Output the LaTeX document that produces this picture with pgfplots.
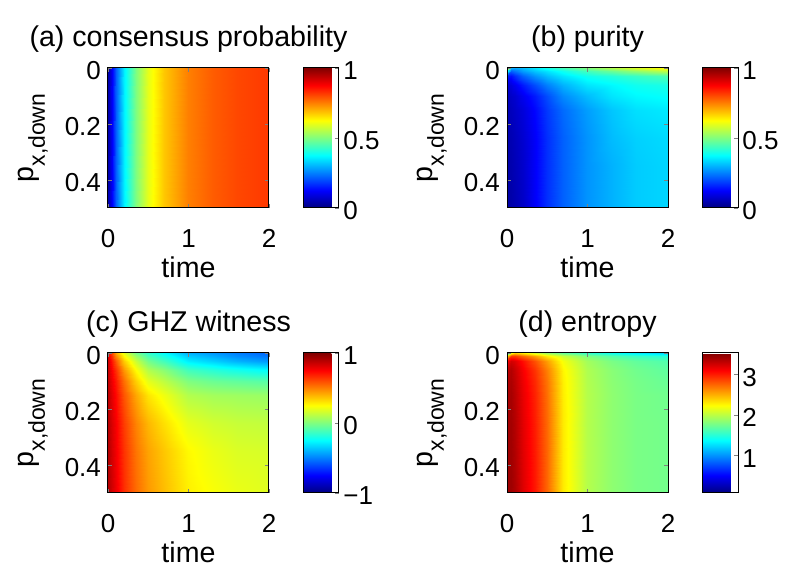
\documentclass[border=0pt]{standalone}
\usepackage{fontspec}
\setmainfont{Liberation Sans}
\usepackage{pgfplots}
\pgfplotsset{compat=1.18}

\pgfplotsset{
  panel/.style={
    scale only axis, width=80.5pt, height=70pt,
    anchor=south west,
    xmin=0, xmax=2, ymin=0, ymax=0.5, y dir=reverse,
    xtick={0,1,2}, ytick={0,0.2,0.4},
    tick align=inside, major tick length=2pt,
    axis line style={line width=0.5pt},
    axis on top,
    colormap/jet,
    /pgf/number format/assume math mode=true,
    tick label style={font=\fontsize{13}{15}\selectfont},
    xticklabel style={anchor=base, yshift=-20pt},
    yticklabel style={yshift=-1.5pt},
    label style={font=\fontsize{14.3}{16}\selectfont},
    title style={font=\fontsize{14.3}{16}\selectfont, at={(axis description cs:0.5,1.07)}, anchor=base},
    xlabel={time},
    xlabel style={at={(axis description cs:0.5,-0.5)}, anchor=base},
    ylabel={p\raisebox{-0.38em}{\fontsize{11.5}{12}\selectfont x,down}},
    ylabel style={at={(axis description cs:-0.46,0.5)}, anchor=base},
    colorbar,
    colorbar shift/.style={xshift=17pt},
    colorbar style={
      at={(parent axis.north east)}, anchor=north west,
      width=18pt,
      tick align=inside, major tick length=2pt,
      ytick pos=right,
      axis line style={line width=0.5pt},
      /pgf/number format/assume math mode=true,
      yticklabel style={font=\fontsize{13}{15}\selectfont, xshift=-1.3pt, yshift=-1.5pt},
    },
  },
}

\begin{document}
\begin{tikzpicture}
\path[use as bounding box] (0,0) rectangle (394pt,290.5pt);

% (a)
\begin{axis}[panel, at={(54pt,186.5pt)}, title={(a) consensus probability},
  point meta min=0, point meta max=1,
  colorbar style={ytick={0,0.5,1}}]
\addplot[surf, shader=interp, mesh/cols=11, point meta=explicit] table[meta=v] {
t p v
0 0 0.04
0.05 0 0.12
0.1 0 0.22
0.2 0 0.36
0.35 0 0.50
0.5 0 0.60
0.7 0 0.68
1.0 0 0.75
1.3 0 0.785
1.6 0 0.805
2.0 0 0.82
0 0.5 0.04
0.05 0.5 0.12
0.1 0.5 0.22
0.2 0.5 0.36
0.35 0.5 0.50
0.5 0.5 0.60
0.7 0.5 0.68
1.0 0.5 0.75
1.3 0.5 0.785
1.6 0.5 0.805
2.0 0.5 0.82
};
\end{axis}

% (b)
\begin{axis}[panel, at={(253.5pt,186.5pt)}, title={(b) purity},
  point meta min=0, point meta max=1,
  colorbar style={ytick={0,0.5,1}}]
\addplot[surf, shader=interp, mesh/cols=11, point meta=explicit] table[meta=v] {
t p v
0 0 0.70
0.05 0 0.30
0.1 0 0.29
0.2 0 0.31
0.35 0 0.35
0.5 0 0.39
0.7 0 0.44
1.0 0 0.50
1.3 0 0.55
1.6 0 0.59
2.0 0 0.63
0 0.01 0.40
0.05 0.01 0.22
0.1 0.01 0.24
0.2 0.01 0.28
0.35 0.01 0.32
0.5 0.01 0.35
0.7 0.01 0.39
1.0 0.01 0.44
1.3 0.01 0.48
1.6 0.01 0.52
2.0 0.01 0.56
0 0.03 0.15
0.05 0.03 0.14
0.1 0.03 0.17
0.2 0.03 0.22
0.35 0.03 0.27
0.5 0.03 0.31
0.7 0.03 0.35
1.0 0.03 0.39
1.3 0.03 0.41
1.6 0.03 0.43
2.0 0.03 0.45
0 0.06 0.08
0.05 0.06 0.09
0.1 0.06 0.11
0.2 0.06 0.15
0.35 0.06 0.20
0.5 0.06 0.25
0.7 0.06 0.30
1.0 0.06 0.35
1.3 0.06 0.37
1.6 0.06 0.39
2.0 0.06 0.40
0 0.1 0.06
0.05 0.1 0.07
0.1 0.1 0.08
0.2 0.1 0.11
0.35 0.1 0.15
0.5 0.1 0.20
0.7 0.1 0.26
1.0 0.1 0.31
1.3 0.1 0.35
1.6 0.1 0.37
2.0 0.1 0.38
0 0.15 0.05
0.05 0.15 0.06
0.1 0.15 0.07
0.2 0.15 0.09
0.35 0.15 0.13
0.5 0.15 0.18
0.7 0.15 0.23
1.0 0.15 0.28
1.3 0.15 0.32
1.6 0.15 0.345
2.0 0.15 0.355
0 0.25 0.045
0.05 0.25 0.05
0.1 0.25 0.06
0.2 0.25 0.08
0.35 0.25 0.12
0.5 0.25 0.17
0.7 0.25 0.22
1.0 0.25 0.27
1.3 0.25 0.31
1.6 0.25 0.33
2.0 0.25 0.34
0 0.35 0.04
0.05 0.35 0.045
0.1 0.35 0.055
0.2 0.35 0.075
0.35 0.35 0.12
0.5 0.35 0.17
0.7 0.35 0.22
1.0 0.35 0.27
1.3 0.35 0.30
1.6 0.35 0.325
2.0 0.35 0.335
0 0.5 0.035
0.05 0.5 0.04
0.1 0.5 0.05
0.2 0.5 0.07
0.35 0.5 0.12
0.5 0.5 0.17
0.7 0.5 0.22
1.0 0.5 0.27
1.3 0.5 0.30
1.6 0.5 0.325
2.0 0.5 0.335
};
\end{axis}

% (c)
\begin{axis}[panel, at={(54pt,44pt)}, title={(c) GHZ witness},
  point meta min=-1, point meta max=1,
  colorbar style={ytick={-1,0,1}, yticklabels={−1,0,1}}]
\addplot[surf, shader=interp, mesh/cols=11, point meta=explicit] table[meta=v] {
t p v
0 0 0.75
0.05 0 0.60
0.1 0 0.42
0.2 0 0.20
0.35 0 -0.02
0.5 0 -0.15
0.7 0 -0.25
1.0 0 -0.40
1.3 0 -0.45
1.6 0 -0.50
2.0 0 -0.55
0 0.01 0.80
0.05 0.01 0.65
0.1 0.01 0.48
0.2 0.01 0.26
0.35 0.01 0.05
0.5 0.01 -0.10
0.7 0.01 -0.20
1.0 0.01 -0.35
1.3 0.01 -0.41
1.6 0.01 -0.47
2.0 0.01 -0.52
0 0.03 0.84
0.05 0.03 0.70
0.1 0.03 0.57
0.2 0.03 0.35
0.35 0.03 0.14
0.5 0.03 -0.02
0.7 0.03 -0.12
1.0 0.03 -0.28
1.3 0.03 -0.34
1.6 0.03 -0.40
2.0 0.03 -0.45
0 0.06 0.86
0.05 0.06 0.75
0.1 0.06 0.65
0.2 0.06 0.45
0.35 0.06 0.25
0.5 0.06 0.10
0.7 0.06 0.02
1.0 0.06 -0.12
1.3 0.06 -0.17
1.6 0.06 -0.21
2.0 0.06 -0.25
0 0.1 0.87
0.05 0.1 0.78
0.1 0.1 0.70
0.2 0.1 0.53
0.35 0.1 0.34
0.5 0.1 0.20
0.7 0.1 0.12
1.0 0.1 0.00
1.3 0.1 -0.04
1.6 0.1 -0.06
2.0 0.1 -0.08
0 0.15 0.88
0.05 0.15 0.80
0.1 0.15 0.73
0.2 0.15 0.58
0.35 0.15 0.42
0.5 0.15 0.30
0.7 0.15 0.22
1.0 0.15 0.10
1.3 0.15 0.07
1.6 0.15 0.06
2.0 0.15 0.05
0 0.25 0.89
0.05 0.25 0.82
0.1 0.25 0.76
0.2 0.25 0.63
0.35 0.25 0.49
0.5 0.25 0.39
0.7 0.25 0.31
1.0 0.25 0.20
1.3 0.25 0.16
1.6 0.25 0.14
2.0 0.25 0.13
0 0.35 0.90
0.05 0.35 0.83
0.1 0.35 0.77
0.2 0.35 0.65
0.35 0.35 0.52
0.5 0.35 0.43
0.7 0.35 0.36
1.0 0.35 0.26
1.3 0.35 0.21
1.6 0.35 0.18
2.0 0.35 0.17
0 0.5 0.90
0.05 0.5 0.84
0.1 0.5 0.78
0.2 0.5 0.66
0.35 0.5 0.54
0.5 0.5 0.45
0.7 0.5 0.38
1.0 0.5 0.28
1.3 0.5 0.24
1.6 0.5 0.21
2.0 0.5 0.19
};
\end{axis}

% (d)
\begin{axis}[panel, at={(253.5pt,44pt)}, title={(d) entropy},
  point meta min=0.07, point meta max=3.53,
  colorbar style={ytick={1,2,3}}]
\addplot[surf, shader=interp, mesh/cols=11, point meta=explicit] table[meta=v] {
t p v
0 0 1.0
0.05 0 2.2
0.1 0 2.4
0.2 0 2.3
0.35 0 2.1
0.5 0 1.9
0.7 0 1.72
1.0 0 1.55
1.3 0 1.42
1.6 0 1.32
2.0 0 1.22
0 0.01 2.4
0.05 0.01 2.9
0.1 0.01 2.9
0.2 0.01 2.75
0.35 0.01 2.55
0.5 0.01 2.3
0.7 0.01 2.05
1.0 0.01 1.80
1.3 0.01 1.66
1.6 0.01 1.57
2.0 0.01 1.50
0 0.03 3.1
0.05 0.03 3.25
0.1 0.03 3.2
0.2 0.03 3.05
0.35 0.03 2.82
0.5 0.03 2.56
0.7 0.03 2.2
1.0 0.03 1.92
1.3 0.03 1.78
1.6 0.03 1.70
2.0 0.03 1.64
0 0.06 3.3
0.05 0.06 3.36
0.1 0.06 3.28
0.2 0.06 3.12
0.35 0.06 2.92
0.5 0.06 2.66
0.7 0.06 2.26
1.0 0.06 1.96
1.3 0.06 1.83
1.6 0.06 1.75
2.0 0.06 1.69
0 0.1 3.35
0.05 0.1 3.38
0.1 0.1 3.31
0.2 0.1 3.15
0.35 0.1 2.96
0.5 0.1 2.7
0.7 0.1 2.28
1.0 0.1 1.97
1.3 0.1 1.84
1.6 0.1 1.77
2.0 0.1 1.72
0 0.15 3.38
0.05 0.15 3.40
0.1 0.15 3.33
0.2 0.15 3.17
0.35 0.15 2.98
0.5 0.15 2.72
0.7 0.15 2.29
1.0 0.15 1.98
1.3 0.15 1.85
1.6 0.15 1.78
2.0 0.15 1.75
0 0.25 3.40
0.05 0.25 3.41
0.1 0.25 3.35
0.2 0.25 3.19
0.35 0.25 3.00
0.5 0.25 2.74
0.7 0.25 2.30
1.0 0.25 1.98
1.3 0.25 1.85
1.6 0.25 1.78
2.0 0.25 1.76
0 0.35 3.42
0.05 0.35 3.42
0.1 0.35 3.36
0.2 0.35 3.20
0.35 0.35 3.01
0.5 0.35 2.75
0.7 0.35 2.30
1.0 0.35 1.98
1.3 0.35 1.85
1.6 0.35 1.78
2.0 0.35 1.76
0 0.5 3.43
0.05 0.5 3.43
0.1 0.5 3.37
0.2 0.5 3.21
0.35 0.5 3.02
0.5 0.5 2.75
0.7 0.5 2.30
1.0 0.5 1.98
1.3 0.5 1.85
1.6 0.5 1.78
2.0 0.5 1.76
};
\end{axis}
\end{tikzpicture}
\end{document}
